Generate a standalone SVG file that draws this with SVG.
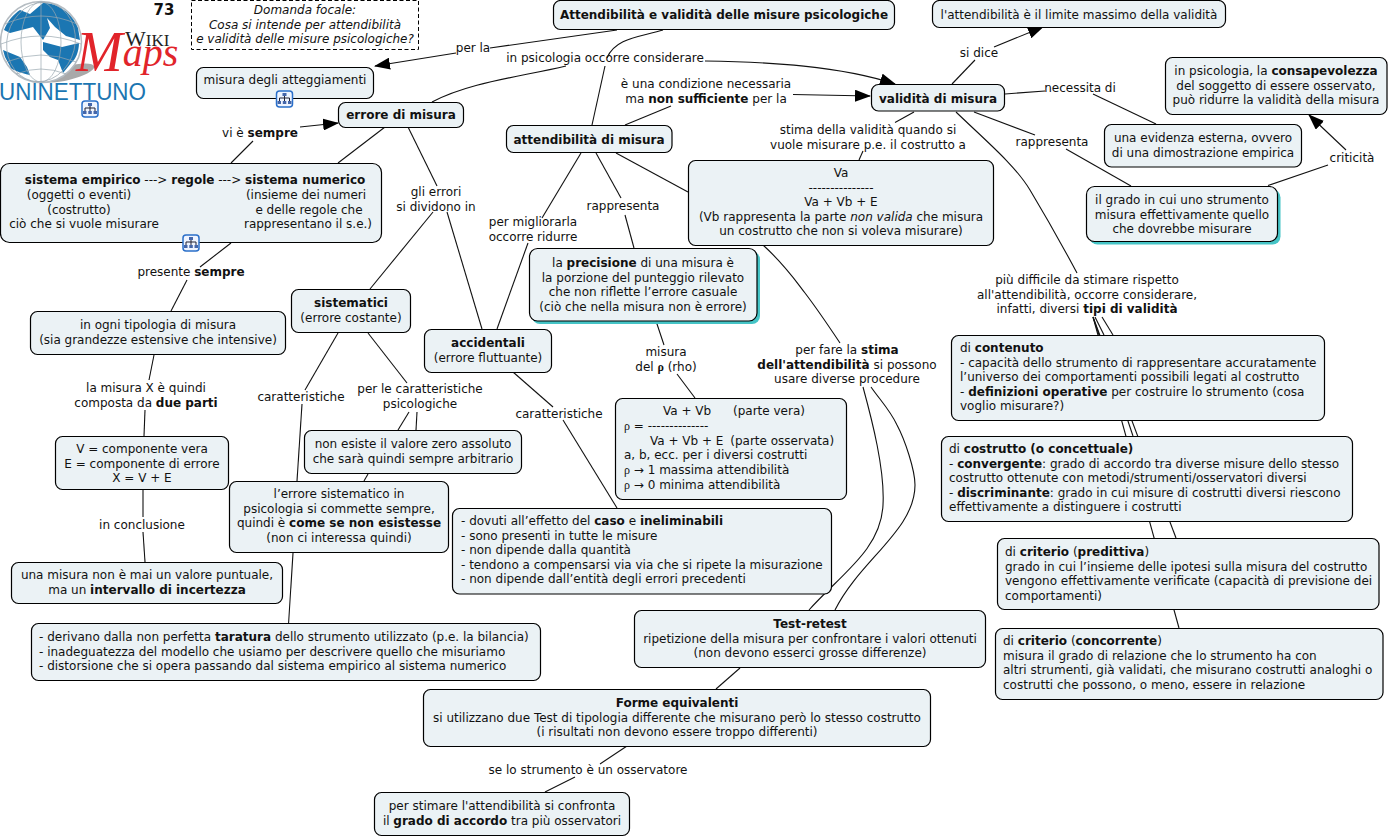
<svg xmlns="http://www.w3.org/2000/svg" width="1392" height="838" viewBox="0 0 1392 838">
<style>
text{font-family:"DejaVu Sans",Verdana,sans-serif;font-size:12px;fill:#111}
.m{text-anchor:middle}
.b{font-weight:700}
.i{font-style:italic}
.n{fill:#ebf2f5;stroke:#000;stroke-width:1.2}
.s{fill:#45c4c6}
.l{fill:none;stroke:#111;stroke-width:1.1}
.a{fill:#000}
.ic{fill:#eef4ff;stroke:#2a6fc9;stroke-width:1.5}
.icl{fill:none;stroke:#223;stroke-width:1}
</style>
<defs>
<marker id="arr" viewBox="0 0 16 12" refX="15" refY="6" markerWidth="16" markerHeight="12" markerUnits="userSpaceOnUse" orient="auto"><path class="a" d="M0 0L16 6L0 12Z"/></marker>
<g id="icon">
<rect class="ic" x="-8" y="-8" width="16" height="16" rx="3"/>
<path class="icl" d="M0-4V-1M-5 3V-1H5V3M0-1V3"/>
<rect x="-2" y="-6" width="4" height="3" fill="#46a"/><rect x="-7" y="2" width="3.500" height="3" fill="#46a"/><rect x="-1.700" y="2" width="3.500" height="3" fill="#46a"/><rect x="3.500" y="2" width="3.500" height="3" fill="#46a"/>
</g>
</defs>
<g id="logo">
<ellipse cx="68" cy="73" rx="27" ry="7" fill="#a9a9a9" transform="rotate(-14 68 73)"/>
<circle cx="41" cy="42" r="40.500" fill="#fff" stroke="#b5bcc2" stroke-width="1.500"/>
<path fill="#1b76b2" d="M4 30C8 20 14 14 20 10L30 14L43 3C58 3 72 13 78 28L80 40L66 36L55 27L47 18L50 28L43 40L33 27L10 33ZM43 42L62 47L79 43C79 52 75 60 72 62L63 73L58 60L50 57L43 50ZM3 50L20 57L27 67L30 75C20 73 13 70 11 68L5 57Z"/>
<g fill="none" stroke="#9aa7b0" stroke-width=".7">
<ellipse cx="41" cy="42" rx="20" ry="40"/><ellipse cx="41" cy="42" rx="34" ry="40" transform="rotate(14 41 42)"/><path d="M41 2V82M5 24Q41 8 77 24M1 44Q41 28 81 44M6 62Q41 48 76 62M16 74Q41 64 66 74"/>
</g>
<text x="76" y="71" style="font-family:'Liberation Serif',serif;font-size:56px;font-style:italic;fill:#e1242a">M<tspan style="font-size:40px" dy="-5">aps</tspan></text>
<text x="125" y="46" style="font-family:'Liberation Serif',serif;font-size:22px;fill:#222">W<tspan style="font-size:17px">IKI</tspan></text>
<text x="-1" y="100" style="font-family:'Liberation Sans',sans-serif;font-size:23px;fill:#1b76b2" textLength="147" lengthAdjust="spacingAndGlyphs">UNINETTUNO</text>
<use href="#icon" x="90" y="109"/>
</g>
<text id="num" class="m b" x="164" y="15" style="font-size:15px">73</text>
<g id="connectors">
<path class="l" d="M617 30L490 48"/><path class="l" marker-end="url(#arr)" d="M456 53L375 66"/>
<path class="l" d="M663 30C640 37 615 38 607 58"/><path class="l" marker-end="url(#arr)" d="M705 61C770 62 840 66 895 84"/>
<path class="l" d="M566 66C520 77 470 82 432 102"/><path class="l" d="M605 66L592 125"/>
<path class="l" d="M625 125L671 106"/><path class="l" marker-end="url(#arr)" d="M793 94.500L870 96"/>
<path class="l" d="M952 84L975 60"/><path class="l" marker-end="url(#arr)" d="M994 47L1043 27"/>
<path class="l" d="M1005 94L1045 91"/><path class="l" d="M1093 94L1156 124"/>
<path class="l" d="M974 112L1035 135"/><path class="l" d="M1066 149L1131 186"/>
<path class="l" d="M1268 185.500L1328 165"/><path class="l" marker-end="url(#arr)" d="M1346 150L1309 115"/>
<path class="l" d="M914 112L895 122.500"/><path class="l" d="M863 151L859 160"/>
<path class="l" d="M956 112C985 140 1015 165 1030 190C1048 220 1062 245 1077 273"/>
<path class="l" d="M1093 317L1179 628"/><path class="l" d="M1093 317L1176 538"/><path class="l" d="M1093 317L1133 436"/><path class="l" d="M1095 317L1104 335"/><path class="l" d="M1102 317L1113 335"/>
<path class="l" d="M231 163L253 141"/><path class="l" marker-end="url(#arr)" d="M300 127L338 123"/>
<path class="l" d="M385 127L338 163"/>
<path class="l" d="M408 127L437 186"/><path class="l" d="M433 212L370 289"/><path class="l" d="M447 212L482 329"/>
<path class="l" d="M581 153L542 218"/><path class="l" d="M528 243L497 329"/>
<path class="l" d="M596 153L621 198"/><path class="l" d="M625 215L634 248"/>
<path class="l" d="M616 153L688 192"/>
<path class="l" d="M763 245C785 265 795 280 805 293C818 310 830 328 840 343"/>
<path class="l" d="M863 387C872 420 885 470 883 505C881 550 840 575 809 610"/>
<path class="l" d="M871 387C880 400 890 410 897 425C905 440 915 470 915 485C915 530 860 560 835 610"/>
<path class="l" d="M740 668L716 689"/>
<path class="l" d="M627 746L600 764"/><path class="l" d="M575 777L545 792"/>
<path class="l" d="M656 321L664 345"/><path class="l" d="M677 374L695 398"/>
<path class="l" d="M513 372L553 407"/><path class="l" d="M563 420L617 508"/>
<path class="l" d="M338 333L305 390"/><path class="l" d="M302 404L297 481"/><path class="l" d="M293 553L288.600 623"/>
<path class="l" d="M368 333L407 383"/><path class="l" d="M409 412L398 430"/><path class="l" d="M417 412L416 430"/><path class="l" d="M368 474L364 481"/>
<path class="l" d="M231 243L200 267"/><path class="l" d="M187 280L171 311"/>
<path class="l" d="M154 355L149 380"/><path class="l" d="M145 410L144 436"/>
<path class="l" d="M143 490V517"/><path class="l" d="M143 532L145 562"/>
</g>
<g id="labels">
<text class="m" x="473" y="52">per la</text>
<text class="m" x="605" y="62">in psicologia occorre considerare</text>
<text class="m" x="706" y="88">è una condizione necessaria<tspan x="706" dy="14.500">ma <tspan class="b">non sufficiente</tspan> per la</tspan></text>
<text class="m" x="979" y="57">si dice</text>
<text class="m" x="1080" y="92">necessita di</text>
<text class="m" x="1052" y="146">rappresenta</text>
<text class="m" x="1352" y="162">criticità</text>
<text class="m" x="868" y="134">stima della validità quando si<tspan x="868" dy="14.500">vuole misurare p.e. il costrutto a</tspan></text>
<text class="m" x="1087" y="284">più difficile da stimare rispetto<tspan x="1087" dy="14.500">all'attendibilità, occorre considerare,</tspan><tspan x="1087" dy="14.500">infatti, diversi <tspan class="b">tipi di validità</tspan></tspan></text>
<text class="m" x="260" y="137">vi è <tspan class="b">sempre</tspan></text>
<text class="m" x="436" y="196">gli errori<tspan x="436" dy="14.500">si dividono in</tspan></text>
<text class="m" x="533" y="226">per migliorarla<tspan x="533" dy="14.500">occorre ridurre</tspan></text>
<text class="m" x="623" y="210">rappresenta</text>
<text class="m" x="847" y="354">per fare la <tspan class="b">stima</tspan><tspan x="847" dy="14.500"><tspan class="b">dell'attendibilità</tspan> si possono</tspan><tspan x="847" dy="14.500">usare diverse procedure</tspan></text>
<text class="m" x="588" y="774">se lo strumento è un osservatore</text>
<text class="m" x="666" y="356">misura<tspan x="666" dy="14.500">del <tspan class="b" style="font-family:'Liberation Serif',serif">ρ</tspan> (rho)</tspan></text>
<text class="m" x="559" y="418">caratteristiche</text>
<text class="m" x="301" y="401">caratteristiche</text>
<text class="m" x="420" y="393">per le caratteristiche<tspan x="420" dy="14.500">psicologiche</tspan></text>
<text class="m" x="191" y="276">presente <tspan class="b">sempre</tspan></text>
<text class="m" x="146" y="392">la misura X è quindi<tspan x="146" dy="14.500">composta da <tspan class="b">due parti</tspan></tspan></text>
<text class="m" x="142" y="529">in conclusione</text>
</g>
<g id="n-focal"><rect x="191.500" y=".5" width="227" height="49" fill="#fff" stroke="#000" stroke-dasharray="4 2.500"/><text class="m i" x="305" y="14">Domanda focale:<tspan x="305" dy="14.500">Cosa si intende per attendibilità</tspan><tspan x="305" dy="14.500">e validità delle misure psicologiche?</tspan></text></g>
<g id="n-main"><rect class="n" x="553.500" y=".5" width="341" height="29" rx="7"/><text class="m b" x="724" y="19">Attendibilità e validità delle misure psicologiche</text></g>
<g id="n-atteggiamenti"><rect class="n" x="196.500" y="67.500" width="177" height="31" rx="7"/><text class="m" x="285" y="84">misura degli atteggiamenti</text><use href="#icon" x="284.500" y="99"/></g>
<g id="n-errore"><rect class="n" x="338.500" y="102.500" width="125" height="25" rx="7"/><text class="m b" x="401" y="119">errore di misura</text></g>
<g id="n-sistema"><rect class="n" x=".5" y="163.500" width="381" height="79" rx="9"/><text class="m" x="195" y="184"><tspan class="b">sistema empirico</tspan> ---&gt; <tspan class="b">regole</tspan> ---&gt; <tspan class="b">sistema numerico</tspan></text>
<text class="m" x="79" y="199">(oggetti o eventi)<tspan x="79" dy="14.500">(costrutto)</tspan><tspan x="84" dy="14.500">ciò che si vuole misurare</tspan></text>
<text class="m" x="306" y="199">(insieme dei numeri<tspan x="309" dy="14.500">e delle regole che</tspan><tspan x="308" dy="14.500">rappresentano il s.e.)</tspan></text><use href="#icon" x="191" y="243"/></g>
<g id="n-attendibilita"><rect class="n" x="506.500" y="125.500" width="165.500" height="27" rx="7"/><text class="m b" x="589" y="144">attendibilità di misura</text></g>
<g id="n-validita"><rect class="n" x="871.500" y="84.500" width="133" height="26.500" rx="7"/><text class="m b" x="938" y="103">validità di misura</text></g>
<g id="n-limite"><rect class="n" x="932.500" y=".5" width="293" height="27" rx="7"/><text class="m" x="1079" y="19">l'attendibilità è il limite massimo della validità</text></g>
<g id="n-consapevolezza"><rect class="n" x="1165.500" y="57.500" width="221.500" height="57" rx="7"/><text class="m" x="1276" y="75">in psicologia, la <tspan class="b">consapevolezza</tspan><tspan x="1276" dy="14.500">del soggetto di essere osservato,</tspan><tspan x="1276" dy="14.500">può ridurre la validità della misura</tspan></text></g>
<g id="n-evidenza"><rect class="n" x="1104.500" y="124.500" width="197" height="42.500" rx="7"/><text class="m" x="1203" y="142">una evidenza esterna, ovvero<tspan x="1203" dy="14.500">di una dimostrazione empirica</tspan></text></g>
<g id="n-grado"><rect class="s" x="1089.500" y="189.500" width="191" height="55" rx="8"/><rect class="n" x="1086.500" y="186.500" width="191" height="55" rx="8"/><text class="m" x="1182" y="204">il grado in cui uno strumento<tspan x="1182" dy="14.500">misura effettivamente quello</tspan><tspan x="1182" dy="14.500">che dovrebbe misurare</tspan></text></g>
<g id="n-va"><rect class="n" x="688.500" y="160.500" width="305" height="85" rx="7"/><text class="m" x="841" y="177">Va<tspan x="841" dy="14.500">---------------</tspan><tspan x="841" dy="14.500">Va + Vb + E</tspan><tspan x="841" dy="14.500">(Vb rappresenta la parte <tspan class="i">non valida</tspan>  che misura</tspan><tspan x="841" dy="14.500">un costrutto che non si voleva misurare)</tspan></text></g>
<g id="n-precisione"><rect class="s" x="532" y="251.500" width="228" height="72.500" rx="8"/><rect class="n" x="529.500" y="248.500" width="227.500" height="72.500" rx="8"/><text class="m" x="643" y="267">la <tspan class="b">precisione</tspan> di una misura è<tspan x="643" dy="14.500">la porzione del punteggio rilevato</tspan><tspan x="643" dy="14.500">che non riflette l’errore casuale</tspan><tspan x="643" dy="14.500">(ciò che nella misura non è errore)</tspan></text></g>
<g id="n-sistematici"><rect class="n" x="291.500" y="289.500" width="119" height="43" rx="7"/><text class="m" x="351" y="307"><tspan class="b">sistematici</tspan><tspan x="351" dy="14.500">(errore costante)</tspan></text></g>
<g id="n-accidentali"><rect class="n" x="424.500" y="329.500" width="127" height="43" rx="7"/><text class="m" x="488" y="347"><tspan class="b">accidentali</tspan><tspan x="488" dy="14.500">(errore fluttuante)</tspan></text></g>
<g id="n-ogni"><rect class="n" x="30.500" y="311.500" width="255" height="43" rx="7"/><text class="m" x="158" y="329">in ogni tipologia di misura<tspan x="158" dy="14.500">(sia grandezze estensive che intensive)</tspan></text></g>
<g id="n-vex"><rect class="n" x="55.500" y="436.500" width="173" height="53" rx="7"/><text class="m" x="142" y="453">V = componente vera<tspan x="142" dy="14.500">E = componente di errore</tspan><tspan x="142" dy="14.500">X = V + E</tspan></text></g>
<g id="n-zero"><rect class="n" x="304.500" y="430.500" width="217" height="43" rx="7"/><text class="m" x="413" y="448">non esiste il valore zero assoluto<tspan x="413" dy="14.500">che sarà quindi sempre arbitrario</tspan></text></g>
<g id="n-sistpsi"><rect class="n" x="229.500" y="481.500" width="219" height="71" rx="7"/><text class="m" x="339" y="498">l’errore sistematico in<tspan x="339" dy="14.500">psicologia si commette sempre,</tspan><tspan x="339" dy="14.500">quindi è <tspan class="b">come se non esistesse</tspan></tspan><tspan x="339" dy="14.500">(non ci interessa quindi)</tspan></text></g>
<g id="n-rho"><rect class="n" x="615.500" y="398.500" width="231" height="101" rx="7"/>
<text class="m" x="734" y="415">Va + Vb     <tspan dx="18">(parte vera)</tspan></text>
<text x="624" y="430"><tspan style="font-family:'Liberation Serif',serif">ρ</tspan> = --------------</text>
<text x="650" y="445">Va + Vb + E  <tspan dx="3">(parte osservata)</tspan></text>
<text x="624" y="459">a, b, ecc. per i diversi costrutti</text>
<text x="624" y="474"><tspan style="font-family:'Liberation Serif',serif">ρ</tspan> → 1 massima attendibilità</text>
<text x="624" y="489"><tspan style="font-family:'Liberation Serif',serif">ρ</tspan> → 0 minima attendibilità</text></g>
<g id="n-dovuti"><rect class="n" x="452.500" y="508.500" width="379" height="85.500" rx="7"/><text x="461" y="525">- dovuti all’effetto del <tspan class="b">caso</tspan> e <tspan class="b">ineliminabili</tspan><tspan x="461" dy="14.500">- sono presenti in tutte le misure</tspan><tspan x="461" dy="14.500">- non dipende dalla quantità</tspan><tspan x="461" dy="14.500">- tendono a compensarsi via via che si ripete la misurazione</tspan><tspan x="461" dy="14.500">- non dipende dall’entità degli errori precedenti</tspan></text></g>
<g id="n-puntuale"><rect class="n" x="11.500" y="562.500" width="271" height="41" rx="7"/><text class="m" x="147" y="579">una misura non è mai un valore puntuale,<tspan x="147" dy="14.500">ma un <tspan class="b">intervallo di incertezza</tspan></tspan></text></g>
<g id="n-derivano"><rect class="n" x="31.500" y="623.500" width="509" height="57" rx="7"/><text x="39" y="641">- derivano dalla non perfetta <tspan class="b">taratura</tspan> dello strumento utilizzato (p.e. la bilancia)<tspan x="39" dy="14.500">- inadeguatezza del modello che usiamo per descrivere quello che misuriamo</tspan><tspan x="39" dy="14.500">- distorsione che si opera passando dal sistema empirico al sistema numerico</tspan></text></g>
<g id="n-test"><rect class="n" x="634.500" y="610.500" width="351" height="57" rx="7"/><text class="m" x="810" y="628"><tspan class="b">Test-retest</tspan><tspan x="810" dy="14.500">ripetizione della misura per confrontare i valori ottenuti</tspan><tspan x="810" dy="14.500">(non devono esserci grosse differenze)</tspan></text></g>
<g id="n-forme"><rect class="n" x="423.500" y="689.500" width="507" height="57" rx="7"/><text class="m" x="677" y="707"><tspan class="b">Forme equivalenti</tspan><tspan x="677" dy="14.500">si utilizzano due Test di tipologia differente che misurano però lo stesso costrutto</tspan><tspan x="677" dy="14.500">(i risultati non devono essere troppo differenti)</tspan></text></g>
<g id="n-accordo"><rect class="n" x="374.500" y="792.500" width="255" height="43" rx="7"/><text class="m" x="502" y="810">per stimare l'attendibilità si confronta<tspan x="502" dy="14.500">il <tspan class="b">grado di accordo</tspan> tra più osservatori</tspan></text></g>
<g id="n-contenuto"><rect class="n" x="951.500" y="335.500" width="373" height="85" rx="7"/><text x="960" y="352">di <tspan class="b">contenuto</tspan><tspan x="960" dy="14.500">- capacità dello strumento di rappresentare accuratamente</tspan><tspan x="960" dy="14.500">l’universo dei comportamenti possibili legati al costrutto</tspan><tspan x="960" dy="14.500">- <tspan class="b">definizioni operative</tspan> per costruire lo strumento (cosa</tspan><tspan x="960" dy="14.500">voglio misurare?)</tspan></text></g>
<g id="n-costrutto"><rect class="n" x="941.500" y="436.500" width="411" height="85" rx="7"/><text x="949" y="453">di <tspan class="b">costrutto (o concettuale)</tspan><tspan x="949" dy="14.500">- <tspan class="b">convergente</tspan>: grado di accordo tra diverse misure dello stesso</tspan><tspan x="949" dy="14.500">costrutto ottenute con metodi/strumenti/osservatori diversi</tspan><tspan x="949" dy="14.500">- <tspan class="b">discriminante</tspan>: grado in cui misure di costrutti diversi riescono</tspan><tspan x="949" dy="14.500">effettivamente a distinguere i costrutti</tspan></text></g>
<g id="n-predittiva"><rect class="n" x="997.500" y="538.500" width="381.500" height="71" rx="7"/><text x="1005" y="556">di <tspan class="b">criterio</tspan> (<tspan class="b">predittiva</tspan>)<tspan x="1005" dy="14.500">grado in cui l’insieme delle ipotesi sulla misura del costrutto</tspan><tspan x="1005" dy="14.500">vengono effettivamente verificate (capacità di previsione dei</tspan><tspan x="1005" dy="14.500">comportamenti)</tspan></text></g>
<g id="n-concorrente"><rect class="n" x="995.500" y="628.500" width="387.500" height="71" rx="7"/><text x="1003" y="645">di <tspan class="b">criterio</tspan> (<tspan class="b">concorrente</tspan>)<tspan x="1003" dy="14.500">misura il grado di relazione che lo strumento ha con</tspan><tspan x="1003" dy="14.500">altri strumenti, già validati, che misurano costrutti analoghi o</tspan><tspan x="1003" dy="14.500">costrutti che possono, o meno, essere in relazione</tspan></text></g>
</svg>
